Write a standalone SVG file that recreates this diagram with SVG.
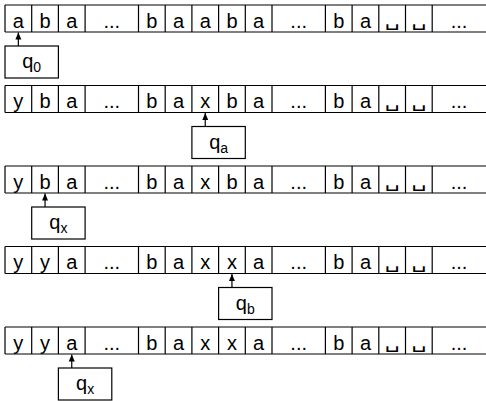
<svg xmlns="http://www.w3.org/2000/svg" xmlns:xlink="http://www.w3.org/1999/xlink" width="486" height="401" viewBox="0 0 486 401">
<style>
.ln{stroke:#000;stroke-width:1.2;fill:none}
.bx{stroke:#000;stroke-width:1.2;fill:#fff}
.t{font-family:"Liberation Sans",Arial,sans-serif;font-size:20px;fill:#000;text-anchor:middle}
.bl{font-family:"DejaVu Sans","Liberation Sans",sans-serif;font-size:18px;fill:#000}
.q{font-family:"Liberation Sans",Arial,sans-serif;font-size:20px;fill:#000;text-anchor:middle}
.s{font-size:14px}
</style>
<defs>
<g id="frame" class="ln">
<path d="M5,0H486M5,27H486M5,0V27M31.7,0V27M58.4,0V27M85.1,0V27M138.5,0V27M165.2,0V27M191.9,0V27M218.6,0V27M245.3,0V27M272,0V27M325.4,0V27M352.1,0V27M378.8,0V27M405.5,0V27M432.2,0V27"/>
</g>
<marker id="ah" markerWidth="8" markerHeight="8" refX="7" refY="4" orient="auto" markerUnits="userSpaceOnUse">
<path d="M0,1 L7,4 L0,7 Z" fill="#000"/>
</marker>
</defs>

<g id="tape1" transform="translate(0,5)">
<use xlink:href="#frame"/>
<text class="t" y="22.5"><tspan x="18.35">a</tspan><tspan x="45.05">b</tspan><tspan x="71.75">a</tspan><tspan x="111.8">...</tspan><tspan x="151.85">b</tspan><tspan x="178.55">a</tspan><tspan x="205.25">a</tspan><tspan x="231.95">b</tspan><tspan x="258.65">a</tspan><tspan x="298.7">...</tspan><tspan x="338.75">b</tspan><tspan x="365.45">a</tspan><tspan x="459">...</tspan></text>
<text class="bl" x="384.6" y="21" textLength="15" lengthAdjust="spacingAndGlyphs">␣</text>
<text class="bl" x="411.3" y="21" textLength="15" lengthAdjust="spacingAndGlyphs">␣</text>
</g>

<g id="tape2" transform="translate(0,85.5)">
<use xlink:href="#frame"/>
<text class="t" y="22.5"><tspan x="18.35">y</tspan><tspan x="45.05">b</tspan><tspan x="71.75">a</tspan><tspan x="111.8">...</tspan><tspan x="151.85">b</tspan><tspan x="178.55">a</tspan><tspan x="205.25">x</tspan><tspan x="231.95">b</tspan><tspan x="258.65">a</tspan><tspan x="298.7">...</tspan><tspan x="338.75">b</tspan><tspan x="365.45">a</tspan><tspan x="459">...</tspan></text>
<text class="bl" x="384.6" y="21" textLength="15" lengthAdjust="spacingAndGlyphs">␣</text>
<text class="bl" x="411.3" y="21" textLength="15" lengthAdjust="spacingAndGlyphs">␣</text>
</g>

<g id="tape3" transform="translate(0,166)">
<use xlink:href="#frame"/>
<text class="t" y="22.5"><tspan x="18.35">y</tspan><tspan x="45.05">b</tspan><tspan x="71.75">a</tspan><tspan x="111.8">...</tspan><tspan x="151.85">b</tspan><tspan x="178.55">a</tspan><tspan x="205.25">x</tspan><tspan x="231.95">b</tspan><tspan x="258.65">a</tspan><tspan x="298.7">...</tspan><tspan x="338.75">b</tspan><tspan x="365.45">a</tspan><tspan x="459">...</tspan></text>
<text class="bl" x="384.6" y="21" textLength="15" lengthAdjust="spacingAndGlyphs">␣</text>
<text class="bl" x="411.3" y="21" textLength="15" lengthAdjust="spacingAndGlyphs">␣</text>
</g>

<g id="tape4" transform="translate(0,246.5)">
<use xlink:href="#frame"/>
<text class="t" y="22.5"><tspan x="18.35">y</tspan><tspan x="45.05">y</tspan><tspan x="71.75">a</tspan><tspan x="111.8">...</tspan><tspan x="151.85">b</tspan><tspan x="178.55">a</tspan><tspan x="205.25">x</tspan><tspan x="231.95">x</tspan><tspan x="258.65">a</tspan><tspan x="298.7">...</tspan><tspan x="338.75">b</tspan><tspan x="365.45">a</tspan><tspan x="459">...</tspan></text>
<text class="bl" x="384.6" y="21" textLength="15" lengthAdjust="spacingAndGlyphs">␣</text>
<text class="bl" x="411.3" y="21" textLength="15" lengthAdjust="spacingAndGlyphs">␣</text>
</g>

<g id="tape5" transform="translate(0,327)">
<use xlink:href="#frame"/>
<text class="t" y="22.5"><tspan x="18.35">y</tspan><tspan x="45.05">y</tspan><tspan x="71.75">a</tspan><tspan x="111.8">...</tspan><tspan x="151.85">b</tspan><tspan x="178.55">a</tspan><tspan x="205.25">x</tspan><tspan x="231.95">x</tspan><tspan x="258.65">a</tspan><tspan x="298.7">...</tspan><tspan x="338.75">b</tspan><tspan x="365.45">a</tspan><tspan x="459">...</tspan></text>
<text class="bl" x="384.6" y="21" textLength="15" lengthAdjust="spacingAndGlyphs">␣</text>
<text class="bl" x="411.3" y="21" textLength="15" lengthAdjust="spacingAndGlyphs">␣</text>
</g>

<g id="state1">
<rect class="bx" x="5" y="46" width="53.4" height="32"/>
<text class="q" x="31.7" y="68">q<tspan class="s" dy="4">0</tspan></text>
</g>
<g id="state2">
<rect class="bx" x="191.9" y="126.5" width="53.4" height="32"/>
<text class="q" x="218.6" y="148.5">q<tspan class="s" dy="4">a</tspan></text>
</g>
<g id="state3">
<rect class="bx" x="31.7" y="207" width="53.4" height="32"/>
<text class="q" x="58.4" y="229">q<tspan class="s" dy="4">x</tspan></text>
</g>
<g id="state4">
<rect class="bx" x="218.6" y="287.5" width="53.4" height="32"/>
<text class="q" x="245.3" y="309.5">q<tspan class="s" dy="4">b</tspan></text>
</g>
<g id="state5">
<rect class="bx" x="58.4" y="368" width="53.4" height="32"/>
<text class="q" x="85.1" y="390">q<tspan class="s" dy="4">x</tspan></text>
</g>

<g id="connectors" class="ln">
<line x1="18.35" y1="46" x2="18.35" y2="32.6" marker-end="url(#ah)"/>
<line x1="205.25" y1="126.5" x2="205.25" y2="113.1" marker-end="url(#ah)"/>
<line x1="45.05" y1="207" x2="45.05" y2="193.6" marker-end="url(#ah)"/>
<line x1="231.95" y1="287.5" x2="231.95" y2="274.1" marker-end="url(#ah)"/>
<line x1="71.75" y1="368" x2="71.75" y2="354.6" marker-end="url(#ah)"/>
</g>
</svg>
